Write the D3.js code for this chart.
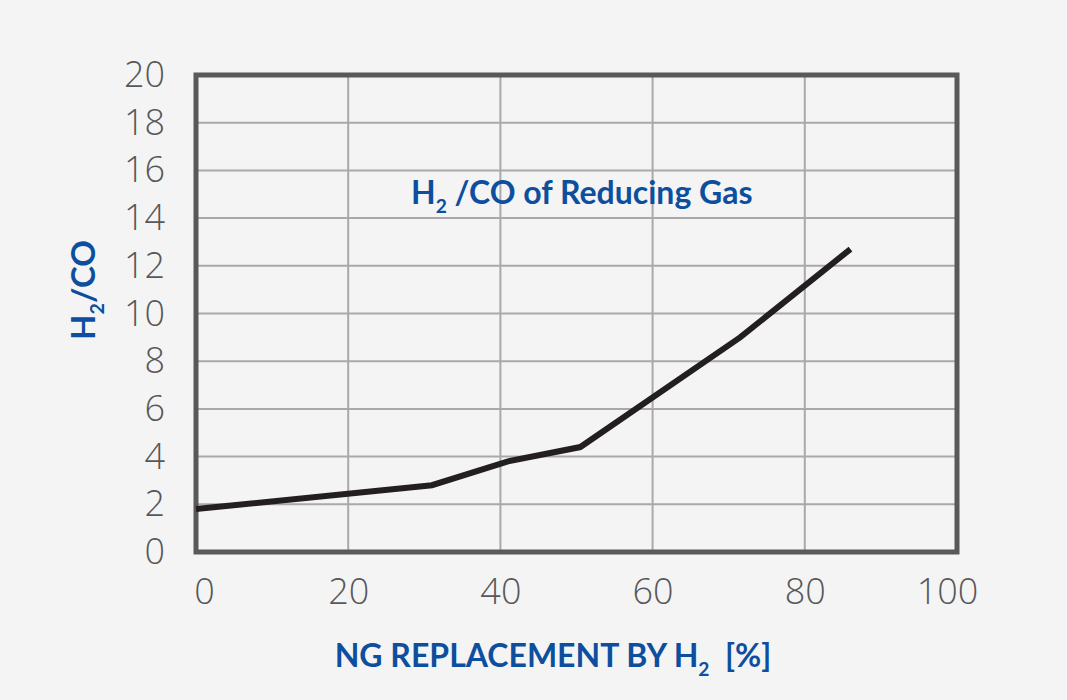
<!DOCTYPE html>
<html>
<head>
<meta charset="utf-8">
<script src="https://cdn.jsdelivr.net/npm/d3@7"></script>
<style>
  body { margin: 0; background: #f4f4f4; }
  svg { display: block; }
</style>
</head>
<body>
<div id="chart"></div>
<script>
// NG replacement by H2 [%] and resulting H2/CO ratio
var replacement = [0, 31, 41, 50.5, 71.5, 86];
var ratio = [1.8, 2.8, 3.8, 4.4, 9.0, 12.7];
var xTicks = [0, 20, 40, 60, 80, 100];
var yTicks = [0, 2, 4, 6, 8, 10, 12, 14, 16, 18, 20];

var width = 1067, height = 700;
var blue = "#0d4f9e";

var svg = d3.select("#chart")
    .append("svg")
    .attr("width", width)
    .attr("height", height);

svg.append("rect")
    .attr("width", width)
    .attr("height", height)
    .attr("fill", "#f4f4f4");

var x = d3.scaleLinear().domain([0, 100]).range([196, 957]);
var y = d3.scaleLinear().domain([0, 20]).range([552, 75]);

// grid lines
svg.append("g")
    .selectAll("line.v")
    .data(xTicks.slice(1, -1))
    .enter()
    .append("line")
    .attr("x1", function(d) { return x(d); })
    .attr("x2", function(d) { return x(d); })
    .attr("y1", y(20))
    .attr("y2", y(0))
    .attr("stroke", "#a9a9a9")
    .attr("stroke-width", 2);

svg.append("g")
    .selectAll("line.h")
    .data(yTicks.slice(1, -1))
    .enter()
    .append("line")
    .attr("x1", x(0))
    .attr("x2", x(100))
    .attr("y1", function(d) { return y(d); })
    .attr("y2", function(d) { return y(d); })
    .attr("stroke", "#a9a9a9")
    .attr("stroke-width", 2);

// frame
svg.append("rect")
    .attr("x", x(0))
    .attr("y", y(20))
    .attr("width", x(100) - x(0))
    .attr("height", y(0) - y(20))
    .attr("fill", "none")
    .attr("stroke", "#59595b")
    .attr("stroke-width", 5);

// axes (labels only)
var xAxis = svg.append("g")
    .attr("transform", "translate(0," + (y(0) + 25) + ")")
    .call(d3.axisBottom(x).tickValues(xTicks).tickSize(0).tickPadding(0));

var yAxis = svg.append("g")
    .attr("transform", "translate(" + (x(0) - 31) + ",0)")
    .call(d3.axisLeft(y).tickValues(yTicks).tickSize(0).tickPadding(0));

[xAxis, yAxis].forEach(function(a) {
    a.select(".domain").remove();
    a.selectAll("text")
        .attr("fill", "#58585a")
        .style("font-family", "'Open Sans', sans-serif")
        .style("font-weight", 300)
        .style("font-size", "36px");
});
xAxis.selectAll("text").attr("dy", "0.75em");
// end labels sit slightly inside the frame
xAxis.selectAll("text").attr("dx", function(d) { return d === 0 ? 8 : (d === 100 ? -10 : 0); });

// data line
var line = d3.line()
    .x(function(d, i) { return x(replacement[i]); })
    .y(function(d) { return y(d); });

svg.append("path")
    .datum(ratio)
    .attr("d", line)
    .attr("fill", "none")
    .attr("stroke", "#231f20")
    .attr("stroke-width", 6);

// text with subscript 2
function subText(g, parts) {
    parts.forEach(function(p) {
        var t = g.append("tspan").text(p.t);
        if (p.sub) {
            t.style("font-size", "0.6em").attr("dy", "0.45em");
        } else if (p.after) {
            t.attr("dy", "-0.27em");
        }
    });
}

var title = svg.append("text")
    .attr("x", 411)
    .attr("y", 204)
    .attr("fill", blue)
    .style("font-family", "Lato, sans-serif")
    .style("font-weight", 700)
    .style("font-size", "32px");
subText(title, [{t: "H"}, {t: "2", sub: true}, {t: " /CO of Reducing Gas", after: true}]);

var xLabel = svg.append("text")
    .attr("x", 553)
    .attr("y", 667)
    .attr("text-anchor", "middle")
    .attr("fill", blue)
    .style("font-family", "Lato, sans-serif")
    .style("font-weight", 700)
    .style("font-size", "32px");
subText(xLabel, [{t: "NG REPLACEMENT BY H"}, {t: "2", sub: true}, {t: "  [%]", after: true}]);
xLabel.attr("xml:space", "preserve");

var yLabel = svg.append("text")
    .attr("transform", "translate(95,290) rotate(-90)")
    .attr("text-anchor", "middle")
    .attr("fill", blue)
    .style("font-family", "Lato, sans-serif")
    .style("font-weight", 700)
    .style("font-size", "33px");
subText(yLabel, [{t: "H"}, {t: "2", sub: true}, {t: "/CO", after: true}]);
</script>
</body>
</html>
